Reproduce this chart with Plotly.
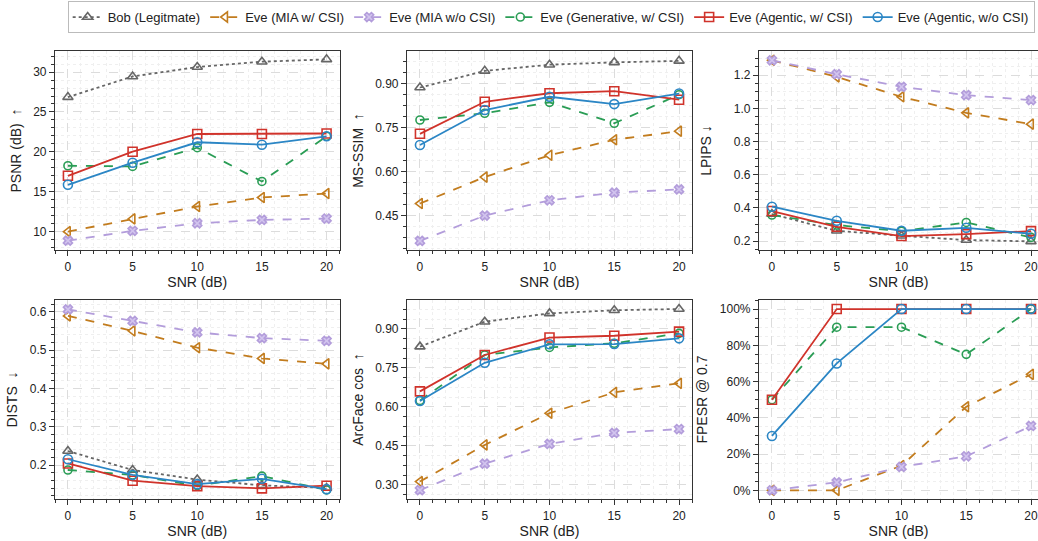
import plotly.graph_objects as go

snr = [0, 5, 10, 15, 20]

series_names = [
    "Bob (Legitmate)",
    "Eve (MIA w/ CSI)",
    "Eve (MIA w/o CSI)",
    "Eve (Generative, w/ CSI)",
    "Eve (Agentic, w/ CSI)",
    "Eve (Agentic, w/o CSI)",
]

psnr = {
    "Bob (Legitmate)": [26.86, 29.45, 30.63, 31.3, 31.59],
    "Eve (MIA w/ CSI)": [10.0, 11.6, 13.15, 14.28, 14.78],
    "Eve (MIA w/o CSI)": [8.87, 10.1, 11.05, 11.47, 11.64],
    "Eve (Generative, w/ CSI)": [18.26, 18.18, 20.52, 16.29, 21.95],
    "Eve (Agentic, w/ CSI)": [17.0, 20.02, 22.24, 22.24, 22.3],
    "Eve (Agentic, w/o CSI)": [15.87, 18.64, 21.2, 20.9, 21.95],
}
msssim = {
    "Bob (Legitmate)": [0.8865, 0.943, 0.964, 0.972, 0.977],
    "Eve (MIA w/ CSI)": [0.492, 0.582, 0.656, 0.709, 0.738],
    "Eve (MIA w/o CSI)": [0.365, 0.451, 0.503, 0.529, 0.540],
    "Eve (Generative, w/ CSI)": [0.776, 0.799, 0.836, 0.765, 0.862],
    "Eve (Agentic, w/ CSI)": [0.729, 0.838, 0.867, 0.874, 0.845],
    "Eve (Agentic, w/o CSI)": [0.691, 0.810, 0.855, 0.830, 0.866],
}
lpips = {
    "Bob (Legitmate)": [0.363, 0.262, 0.232, 0.206, 0.198],
    "Eve (MIA w/ CSI)": [1.29, 1.19, 1.07, 0.973, 0.905],
    "Eve (MIA w/o CSI)": [1.29, 1.206, 1.13, 1.08, 1.05],
    "Eve (Generative, w/ CSI)": [0.357, 0.296, 0.26, 0.312, 0.222],
    "Eve (Agentic, w/ CSI)": [0.381, 0.286, 0.23, 0.242, 0.26],
    "Eve (Agentic, w/o CSI)": [0.407, 0.322, 0.262, 0.28, 0.244],
}
dists = {
    "Bob (Legitmate)": [0.2365, 0.187, 0.162, 0.147, 0.140],
    "Eve (MIA w/ CSI)": [0.589, 0.55, 0.506, 0.478, 0.464],
    "Eve (MIA w/o CSI)": [0.606, 0.576, 0.546, 0.531, 0.524],
    "Eve (Generative, w/ CSI)": [0.187, 0.174, 0.146, 0.171, 0.135],
    "Eve (Agentic, w/ CSI)": [0.204, 0.159, 0.145, 0.139, 0.146],
    "Eve (Agentic, w/o CSI)": [0.215, 0.174, 0.150, 0.164, 0.137],
}
arcface = {
    "Bob (Legitmate)": [0.832, 0.928, 0.960, 0.972, 0.977],
    "Eve (MIA w/ CSI)": [0.313, 0.454, 0.576, 0.656, 0.691],
    "Eve (MIA w/o CSI)": [0.280, 0.382, 0.458, 0.500, 0.515],
    "Eve (Generative, w/ CSI)": [0.625, 0.800, 0.829, 0.845, 0.883],
    "Eve (Agentic, w/ CSI)": [0.660, 0.800, 0.867, 0.874, 0.890],
    "Eve (Agentic, w/o CSI)": [0.623, 0.770, 0.841, 0.842, 0.864],
}
fpesr = {
    "Bob (Legitmate)": [None, None, None, None, None],
    "Eve (MIA w/ CSI)": [0.0, 0.0, 0.136, 0.461, 0.64],
    "Eve (MIA w/o CSI)": [0.0, 0.044, 0.129, 0.1875, 0.355],
    "Eve (Generative, w/ CSI)": [0.50, 0.90, 0.90, 0.75, 1.00],
    "Eve (Agentic, w/ CSI)": [0.50, 1.00, 1.00, 1.00, 1.00],
    "Eve (Agentic, w/o CSI)": [0.30, 0.70, 1.00, 1.00, 1.00],
}

panel_titles = ["PSNR (dB)  ↑", "MS-SSIM  ↑", "LPIPS ↓", "DISTS  ↓", "ArcFace cos  ↑", "FPESR @ 0.7"]
panel_data = [psnr, msssim, lpips, dists, arcface, fpesr]

styles = {
    "Bob (Legitmate)": dict(color="#666666", dash="dot", symbol="triangle-up-open", fill=None, size=9),
    "Eve (MIA w/ CSI)": dict(color="#c27c1e", dash="dash", symbol="triangle-left-open", fill=None, size=9),
    "Eve (MIA w/o CSI)": dict(color="#b39ddb", dash="dash", symbol="x", fill="#d2c4ee", size=8),
    "Eve (Generative, w/ CSI)": dict(color="#2a9d55", dash="dash", symbol="circle-open", fill=None, size=8),
    "Eve (Agentic, w/ CSI)": dict(color="#d0332b", dash="solid", symbol="square-open", fill=None, size=9),
    "Eve (Agentic, w/o CSI)": dict(color="#2b86c5", dash="solid", symbol="circle-open", fill=None, size=9),
}

W, H = 1038, 541
xdoms = [(55, 339.5, [-1, 21]), (407, 692, [-1, 21]), (759, 1038, [-1, 20.54])]
ydoms = [(51, 250), (300, 499)]
yranges = [[7.70, 32.64], [0.334, 1.0106], [0.146, 1.346], [0.1113, 0.6305], [0.246, 1.0115], [-0.048, 1.05]]
ydticks = [5, 0.15, 0.2, 0.1, 0.15, 0.2]
yminor = [1, 0.0375, 0.05, 0.02, 0.0375, 0.05]
ytickfmt = ["d", ".2f", ".1f", ".1f", ".2f", ".0%"]
ystandoff = [8, 8, 18, 8, 8, 8]

FONT = "Liberation Sans, Arial, sans-serif"
fig = go.Figure()
axis_font = dict(family=FONT, size=12, color="#222")

for i, (data, title) in enumerate(zip(panel_data, panel_titles)):
    r, c = divmod(i, 3)
    ax = "" if i == 0 else str(i + 1)
    xa, ya = "x" + ax, "y" + ax
    for name in series_names:
        st = styles[name]
        fig.add_trace(go.Scatter(
            x=snr, y=data[name], name=name, xaxis=xa, yaxis=ya,
            mode="lines+markers", showlegend=(i == 0), legendgroup=name,
            cliponaxis=False,
            line=dict(color=st["color"], dash=st["dash"], width=1.8),
            marker=dict(symbol=st["symbol"], size=st["size"],
                        color=st["fill"] if st["fill"] else st["color"],
                        line=dict(color=st["color"], width=1.6)),
        ))
    x0, x1, xr = xdoms[c]
    y0, y1 = ydoms[r]
    common = dict(showline=True, linecolor="#333", linewidth=1.2, mirror=True,
                  ticks="outside", ticklen=5, tickwidth=1.2, tickcolor="#333",
                  showgrid=True, gridcolor="#dcdcdc", griddash="dash", gridwidth=0.8,
                  zeroline=False, tickfont=axis_font, automargin=False,
                  ticklabeloverflow="allow")
    fig.layout["xaxis" + ax] = dict(
        domain=[x0 / W, x1 / W], range=xr, anchor=ya, tickvals=snr,
        title=dict(text="SNR (dB)", font=dict(family=FONT, size=14, color="#222"), standoff=4),
        minor=dict(dtick=1, ticks="outside", ticklen=3, tickcolor="#333", showgrid=True, gridcolor="#efefef", griddash="dot"),
        **common)
    fig.layout["yaxis" + ax] = dict(
        domain=[1 - y1 / H, 1 - y0 / H], range=yranges[i], anchor=xa,
        dtick=ydticks[i], tick0=0, tickformat=ytickfmt[i],
        title=dict(text=title, font=dict(family=FONT, size=14, color="#222"), standoff=ystandoff[i]),
        minor=dict(dtick=yminor[i], tick0=0, ticks="outside", ticklen=3, tickcolor="#333", showgrid=True, gridcolor="#efefef", griddash="dot"),
        **common)

fig.update_layout(
    width=W, height=H,
    margin=dict(l=0, r=0, t=0, b=0),
    paper_bgcolor="white", plot_bgcolor="white",
    font=dict(family=FONT, size=12, color="#222"),
    legend=dict(orientation="h", x=0.531, xanchor="center", y=0.998, yanchor="top",
                bordercolor="#bbbbbb", borderwidth=1, bgcolor="white",
                font=dict(size=13), itemwidth=30, tracegroupgap=0),
)

fig.write_html("out.html", config={"displayModeBar": False},
               post_script="document.body.style.margin='0';document.body.style.overflow='hidden';")
